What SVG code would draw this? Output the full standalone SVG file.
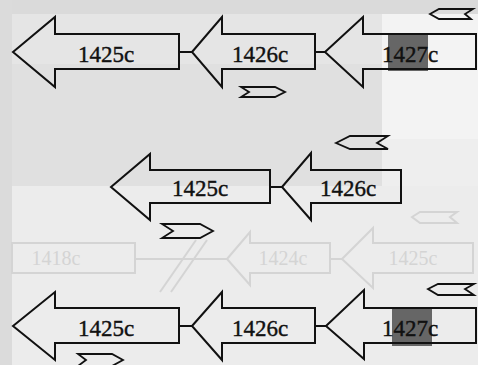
<svg xmlns="http://www.w3.org/2000/svg" width="478" height="365" viewBox="0 0 478 365">
  <style>
    .gene { fill: none; stroke: #111; stroke-width: 2; stroke-linejoin: miter; }
    .primer { fill: none; stroke: #111; stroke-width: 1.8; stroke-linejoin: miter; }
    .link { stroke: #111; stroke-width: 2; }
    .label { font-family: 'Liberation Serif', 'DejaVu Serif', 'Times New Roman', serif; font-size: 23px; fill: #111; text-anchor: middle; stroke: #111; stroke-width: 0.4; }
    .mark { fill: #666; }
    .faint { fill: none; stroke: #d4d4d4; stroke-width: 2; }
    .faint-label { font-family: 'Liberation Serif', 'DejaVu Serif', serif; font-size: 20px; fill: #d4d4d4; text-anchor: middle; }
  </style>

  <!-- paper tones -->
  <rect x="0" y="0" width="478" height="365" fill="#ececec"/>
  <rect x="0" y="0" width="478" height="14" fill="#dadada"/>
  <rect x="0" y="0" width="12" height="365" fill="#dbdbdb"/>
  <rect x="12" y="14" width="370" height="50" fill="#e5e5e5"/>
  <rect x="12" y="64" width="370" height="122" fill="#e0e0e0"/>
  <rect x="382" y="14" width="96" height="125" fill="#f3f3f3"/>
  <rect x="382" y="139" width="96" height="47" fill="#eeeeee"/>

  <!-- faint background locus -->
  <g id="faint-locus">
    <rect class="faint" x="12" y="243" width="123" height="30"/>
    <line class="faint" x1="135" y1="259" x2="227" y2="259"/>
    <line class="faint" x1="160" y1="292" x2="196" y2="240"/>
    <line class="faint" x1="171" y1="292" x2="207" y2="240"/>
    <path class="faint" d="M227,259 L250,232 L250,243 L330,243 L330,273 L250,273 L250,285 Z"/>
    <line class="faint" x1="330" y1="259" x2="342" y2="259"/>
    <path class="faint" d="M342,259 L373,228 L373,243 L473,243 L473,273 L373,273 L373,288 Z"/>
    <path class="faint" d="M412,217 L420,212 L457,212 L450,217 L457,223 L420,223 Z"/>
    <text class="faint-label" x="56" y="265">1418c</text>
    <text class="faint-label" x="283" y="265">1424c</text>
    <text class="faint-label" x="413" y="265">1425c</text>
  </g>

  <!-- links between adjacent genes -->
  <g id="connectors">
    <line class="link" x1="179" y1="52" x2="192" y2="52"/>
    <line class="link" x1="315" y1="52" x2="325" y2="52"/>
    <line class="link" x1="270" y1="187" x2="282" y2="187"/>
    <line class="link" x1="179" y1="326" x2="192" y2="326"/>
    <line class="link" x1="315" y1="326" x2="326" y2="326"/>
  </g>

  <!-- row 1 -->
  <g id="r1-1425c">
    <path class="gene" d="M13,52 L55,17 L55,34 L179,34 L179,69 L55,69 L55,87 Z"/>
    <text class="label" x="106" y="62">1425c</text>
  </g>
  <g id="r1-1426c">
    <path class="gene" d="M192,52 L222,17 L222,34 L315,34 L315,69 L222,69 L222,87 Z"/>
    <text class="label" x="260" y="62">1426c</text>
  </g>
  <g id="r1-1427c">
    <rect class="mark" x="388" y="34" width="40" height="37"/>
    <path class="gene" d="M325,52 L363,17 L363,34 L476,34 L476,69 L363,69 L363,87 Z"/>
    <text class="label" x="410" y="62">1427c</text>
  </g>
  <g id="r1-primer-rev">
    <path class="primer" d="M430,14 L439,9 L473,9 L465,14 L471,19 L439,19 Z"/>
  </g>
  <g id="r1-primer-fwd">
    <path class="primer" d="M241,87 L275,87 L285,92 L275,97 L241,97 L249,92 Z"/>
  </g>

  <!-- row 2 -->
  <g id="r2-1425c">
    <path class="gene" d="M111,187 L150,154 L150,170 L270,170 L270,203 L150,203 L150,220 Z"/>
    <text class="label" x="200" y="196">1425c</text>
  </g>
  <g id="r2-1426c">
    <path class="gene" d="M282,187 L311,153 L311,170 L401,170 L401,203 L311,203 L311,220 Z"/>
    <text class="label" x="348" y="196">1426c</text>
  </g>
  <g id="r2-primer-rev">
    <path class="primer" d="M336,143 L350,136 L388,136 L377,143 L388,149 L350,149 Z"/>
  </g>
  <g id="r2-primer-fwd">
    <path class="primer" d="M162,224 L200,224 L213,231 L200,238 L162,238 L173,231 Z"/>
  </g>

  <!-- row 3 -->
  <g id="r3-1425c">
    <path class="gene" d="M13,326 L55,292 L55,308 L179,308 L179,343 L55,343 L55,360 Z"/>
    <text class="label" x="106" y="336">1425c</text>
  </g>
  <g id="r3-1426c">
    <path class="gene" d="M192,326 L222,292 L222,308 L315,308 L315,343 L222,343 L222,360 Z"/>
    <text class="label" x="260" y="336">1426c</text>
  </g>
  <g id="r3-1427c">
    <rect class="mark" x="392" y="308" width="40" height="38"/>
    <path class="gene" d="M326,326 L364,290 L364,308 L476,308 L476,343 L364,343 L364,359 Z"/>
    <text class="label" x="410" y="336">1427c</text>
  </g>
  <g id="r3-primer-rev">
    <path class="primer" d="M428,289 L438,284 L474,284 L465,289 L474,295 L438,295 Z"/>
  </g>
  <g id="r3-primer-fwd">
    <path class="primer" d="M78,354 L112,354 L123,360 L112,366 L78,366 L86,360 Z"/>
  </g>
</svg>
